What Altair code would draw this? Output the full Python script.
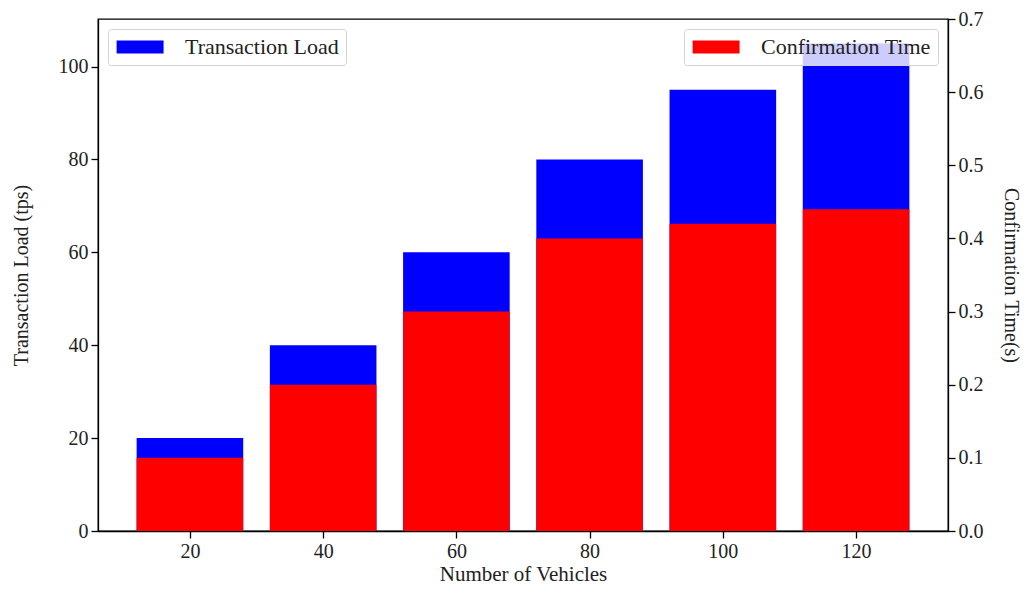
import altair as alt
import pandas as pd

vehicles = [20, 40, 60, 80, 100, 120]
tx_load = [20, 40, 60, 80, 95, 105]
conf_time = [0.10, 0.20, 0.30, 0.40, 0.42, 0.44]
x_ticks = [20, 40, 60, 80, 100, 120]
left_ticks = [0, 20, 40, 60, 80, 100]
right_ticks = [0.0, 0.1, 0.2, 0.3, 0.4, 0.5, 0.6, 0.7]

df = pd.DataFrame({
    "Vehicles": vehicles,
    "Load": tx_load,
    "Time": conf_time,
    "s1": ["Transaction Load"] * len(vehicles),
    "s2": ["Confirmation Time"] * len(vehicles),
})

FONT = "Times New Roman, Liberation Serif, serif"
rect_path = "M-1,-0.7H4V0.7H-1Z"

base = alt.Chart(df).transform_calculate(
    x0="datum.Vehicles - 8", x1="datum.Vehicles + 8"
)

xenc = alt.X("x0:Q", scale=alt.Scale(domain=[6.2, 133.8], nice=False, zero=False),
             axis=alt.Axis(values=x_ticks, title="Number of Vehicles", format="d",
                           titlePadding=2))

legend_common = dict(
    symbolType=rect_path, symbolSize=353, symbolStrokeWidth=0, symbolOpacity=1,
    labelFont=FONT, labelFontSize=22, labelColor="#222", labelOffset=48, labelLimit=400,
    fillColor="rgba(255,255,255,0.8)", strokeColor="#d3d3d3", cornerRadius=3,
    padding=7, offset=10, title=None,
)

blue = base.mark_bar(color="#0000ff").encode(
    x=xenc,
    x2="x1:Q",
    y=alt.Y("Load:Q", scale=alt.Scale(domain=[0, 110.25], nice=False),
            axis=alt.Axis(values=left_ticks, title="Transaction Load (tps)",
                          orient="left", titlePadding=27)),
    y2=alt.datum(0),
    color=alt.Color("s1:N", scale=alt.Scale(domain=["Transaction Load"], range=["#0000ff"]),
                    legend=alt.Legend(orient="top-left", **legend_common)),
)

red = base.mark_bar(color="#ff0000").encode(
    x=xenc,
    x2="x1:Q",
    y=alt.Y("Time:Q", scale=alt.Scale(domain=[0, 0.7], nice=False),
            axis=alt.Axis(values=right_ticks, title="Confirmation Time(s)",
                          orient="right", format=".1f", titlePadding=17)),
    y2=alt.datum(0),
    color=alt.Color("s2:N", scale=alt.Scale(domain=["Confirmation Time"], range=["#ff0000"]),
                    legend=alt.Legend(orient="top-right", **legend_common)),
)

chart = alt.layer(blue, red).resolve_scale(
    y="independent", color="independent"
).properties(
    width=850, height=512,
    autosize=alt.AutoSizeParams(type="none"),
    padding={"left": 90, "top": 11, "right": 74, "bottom": 55},
).configure_view(
    stroke="black", strokeWidth=1.3
).configure_axis(
    labelFont=FONT, labelFontSize=20, labelColor="#222",
    titleFont=FONT, titleFontSize=20, titleColor="#222", titleFontWeight="normal",
    domainColor="black", domainWidth=1.3, tickColor="black", tickWidth=1.3,
    tickSize=7, labelPadding=3, grid=False,
).configure_axisX(titleFontSize=21)

chart.save("out.html", embed_options={"renderer": "svg", "actions": False})
